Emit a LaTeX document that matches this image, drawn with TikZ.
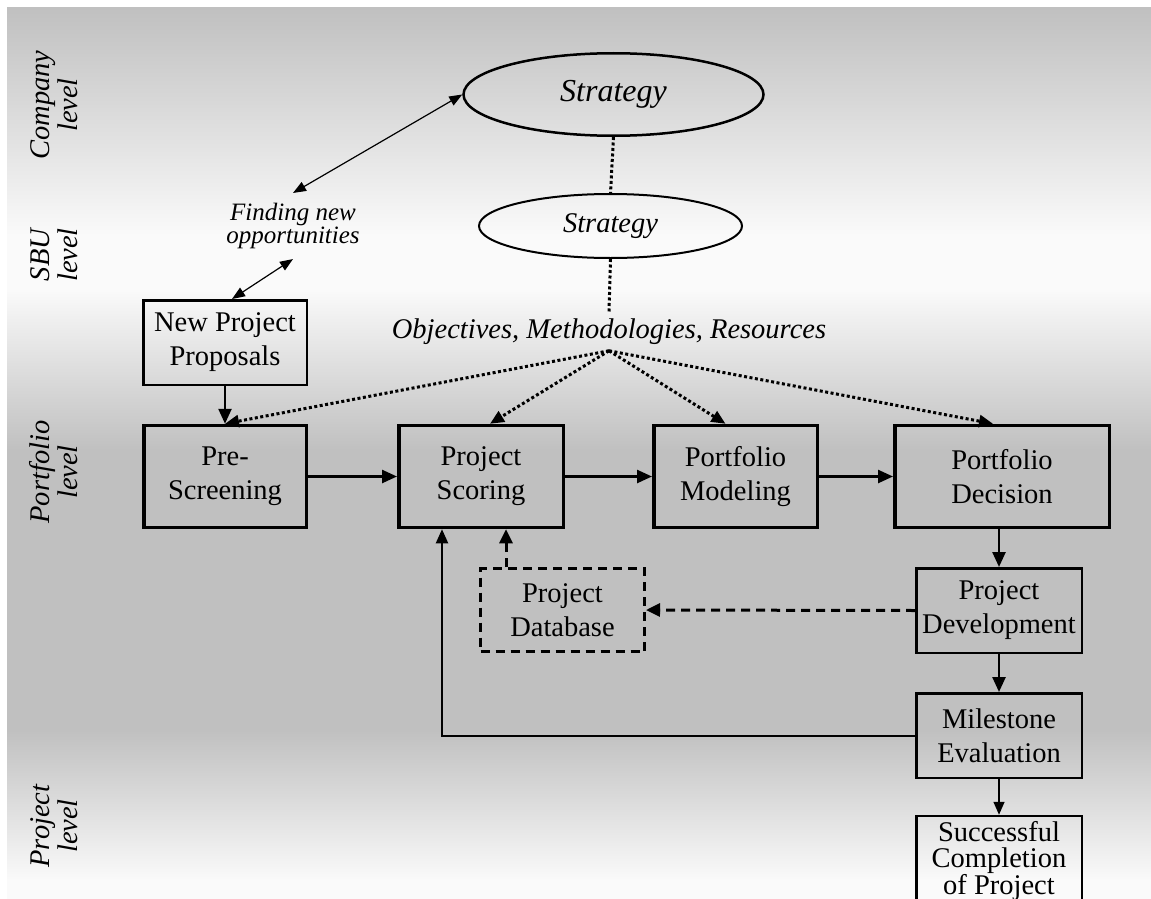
\documentclass[tikz,border=0pt]{standalone}
\usepackage{fontspec}
\setmainfont{Liberation Serif}
\usetikzlibrary{arrows.meta,shapes.geometric,calc}
\definecolor{bgdark}{gray}{0.753}
\definecolor{bglight}{gray}{0.98}

\begin{document}
\begin{tikzpicture}[x=1pt,y=-1pt,
  txt/.style={font=\fontsize{28.5}{34}\selectfont, align=center, inner sep=0pt},
  itxt/.style={font=\fontsize{28.5}{28}\selectfont\itshape, align=center, inner sep=0pt},
  levellabel/.style={itxt, rotate=90},
  stage/.style={txt, draw, line width=3.5pt, minimum height=102pt},
  plainbox/.style={txt, draw, line width=2.5pt, minimum width=165.5pt, minimum height=84.5pt},
  dbbox/.style={txt, draw, line width=3pt, dash pattern=on 9pt off 6pt, minimum width=164pt, minimum height=83pt},
  strat/.style={ellipse, draw, inner sep=0pt, align=center},
  flow/.style={line width=2.5pt, -{Triangle[length=15pt,width=13pt]}},
  thinflow/.style={line width=1.5pt, -{Triangle[length=13pt,width=11pt]}},
  feedback/.style={line width=2pt, -{Triangle[length=14pt,width=12pt]}},
  dbflow/.style={line width=3pt, dash pattern=on 9pt off 6pt, -{Triangle[length=14pt,width=13pt]}},
  dotlink/.style={line width=3pt, dash pattern=on 3pt off 2.5pt},
  fan/.style={dotlink, -{Triangle[length=14pt,width=12pt]}},
  twoway/.style={line width=1.2pt, {Triangle[length=13pt,width=10pt]}-{Triangle[length=13pt,width=10pt]}}
]
% canvas and level shading
\useasboundingbox (0,0) rectangle (1151,899);
\clip (0,0) rectangle (1151,899);
\fill[white] (0,0) rectangle (1151,899);
\shade[top color=bgdark, bottom color=bglight] (7,8) rectangle (1151,235);
\fill[bglight] (7,234.5) rectangle (1151,290.5);
\shade[top color=bglight, bottom color=bgdark] (7,290) rectangle (1151,450);
\fill[bgdark] (7,449.5) rectangle (1151,730.5);
\shade[top color=bgdark, bottom color=bglight] (7,730) rectangle (1151,880);
\fill[bglight] (7,879.5) rectangle (1151,899);

% level labels
\node[levellabel] (lcomp) at (54,105) {Company\\level};
\node[levellabel] (lsbu) at (54,255) {SBU\\level};
\node[levellabel] (lport) at (54,472) {Portfolio\\level};
\node[levellabel] (lproj) at (54,826) {Project\\level};

% strategy ellipses
\node[strat, line width=2.5pt, minimum width=300pt, minimum height=82.5pt,
      font=\fontsize{32}{36}\selectfont\itshape] (cs) at (613.5,94.5) {Strategy};
\node[strat, line width=2pt, minimum width=263pt, minimum height=64pt,
      font=\fontsize{28.5}{32}\selectfont\itshape] (ss) at (610.5,226) {Strategy};

% texts
\node[itxt, font=\fontsize{25}{23}\selectfont\itshape, inner ysep=10pt] (find) at (293,226)
  {Finding new\\opportunities};
\node[itxt, inner ysep=6.5pt, anchor=base] (obj) at (609,338)
  {Objectives, Methodologies, Resources};

% boxes
\node[plainbox, minimum width=163.5pt] (npp) at (225,342.5) {New Project\\Proposals};
\node[stage, minimum width=162.5pt] (pre) at (225,476.5) {Pre-\\Screening};
\node[stage, minimum width=164.5pt] (sc) at (481,476.5) {Project\\Scoring};
\node[stage, minimum width=163.5pt] (mod) at (735.5,476.5) {Portfolio\\Modeling};
\node[stage, minimum width=214.5pt] (dec) at (1002,476.5) {Portfolio\\Decision};
\node[dbbox] (db) at (562.5,610) {Project\\Database};
\node[plainbox] (dev) at (999,610.5) {Project\\Development};
\node[plainbox] (mil) at (999,735.5) {Milestone\\Evaluation};
\node[plainbox, font=\fontsize{28.5}{26}\selectfont, minimum height=90pt] (succ) at (999,861)
  {Successful\\Completion\\of Project};

% strategy links
\draw[dotlink] (cs.south) -- (ss.north);
\draw[dotlink] (ss.south) -- (obj.north);
\draw[twoway] (find.north) -- (cs.west);
\draw[twoway] (find.south) -- ($(npp.north)+(7,0)$);

% objectives fan
\draw[fan] (obj.south) -- (pre.north);
\draw[fan] (obj.south) -- ($(sc.north)+(9,0)$);
\draw[fan] (obj.south) -- ($(mod.north)+(-10,0)$);
\draw[fan] (obj.south) -- ($(dec.north)+(-9,0)$);

% main flow
\draw[flow] (npp.south) -- (pre.north);
\draw[flow] (pre.east) -- (sc.west);
\draw[flow] (sc.east) -- (mod.west);
\draw[flow] (mod.east) -- (dec.west);
\draw[flow] (dev.north |- dec.south) -- (dev.north);
\draw[flow] (dev.south) -- (mil.north);
\draw[thinflow] (mil.south) -- (succ.north);

% database and feedback
\draw[dbflow] (dev.west) -- (db.east);
\coordinate (dbup) at ($(db.north)+(-56.5,0)$);
\draw[dbflow] (dbup) -- (dbup |- sc.south);
\coordinate (fbend) at ($(sc.south)+(-39,0)$);
\draw[feedback] (mil.west) -| (fbend);
\end{tikzpicture}
\end{document}
